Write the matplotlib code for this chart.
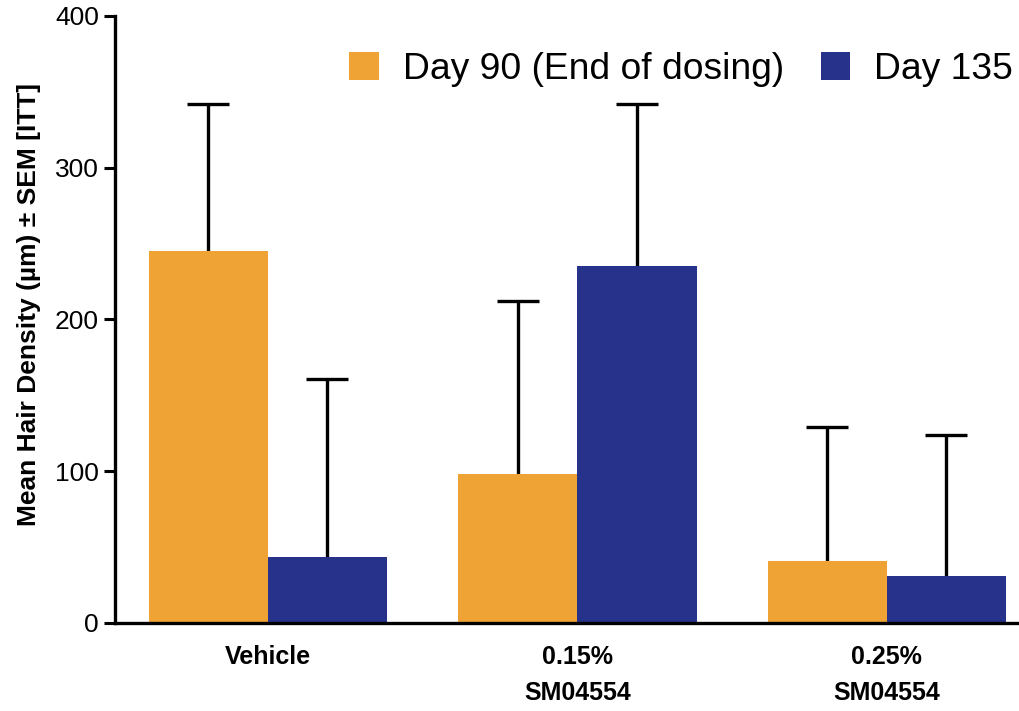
import numpy as np
import matplotlib
matplotlib.use('Agg')
import matplotlib.pyplot as plt

groups = ['Vehicle', '0.15%\nSM04554', '0.25%\nSM04554']
series = ['Day 90 (End of dosing)', 'Day 135']
day90_mean = [245, 98, 41]
day90_sem = [97, 114, 88]
day135_mean = [43.5, 235, 31]
day135_sem = [117, 107, 93]
colors = ['#F0A335', '#27338A']

plt.rcParams['font.family'] = ['Liberation Sans', 'DejaVu Sans']

fig = plt.figure(figsize=(10.2, 7.11), dpi=100)
ax = fig.add_axes([0.1127, 0.1238, 0.8873, 0.8537])

x = np.arange(len(groups))
w = 0.385
err_kw = dict(elinewidth=2.4, capsize=15, capthick=2.4, ecolor='black')

for i, (means, sems) in enumerate([(day90_mean, day90_sem), (day135_mean, day135_sem)]):
    pos = x + (i - 0.5) * w
    ax.bar(pos, means, width=w, color=colors[i], label=series[i], zorder=2)
    eb = ax.errorbar(pos, means, yerr=[np.zeros(len(means)), sems], fmt='none',
                     zorder=1, **err_kw)
    # only the upper cap is wanted
    eb[1][0].set_visible(False)

ax.set_xlim(-0.494, 2.43)
ax.set_ylim(0, 400)
ax.set_yticks([0, 100, 200, 300, 400])
ax.set_xticks(x)
ax.set_xticklabels(groups, fontsize=18, fontweight='bold', linespacing=1.6)
ax.tick_params(axis='y', labelsize=19, width=2.2, length=8, direction='out')
ax.tick_params(axis='x', length=0, pad=16)

for s in ['top', 'right']:
    ax.spines[s].set_visible(False)
for s in ['left', 'bottom']:
    ax.spines[s].set_linewidth(2.4)

ax.set_ylabel('Mean Hair Density (µm) ± SEM [ITT]', fontsize=19,
              fontweight='bold')
ax.yaxis.set_label_coords(-0.082, 0.525)

ax.legend(loc='upper right', ncol=2, frameon=False, fontsize=26.8,
          handlelength=0.78, handleheight=0.78, handletextpad=0.65,
          columnspacing=1.0, borderaxespad=0.1, bbox_to_anchor=(1.013, 0.972))

fig.savefig('out.png', dpi=100)
